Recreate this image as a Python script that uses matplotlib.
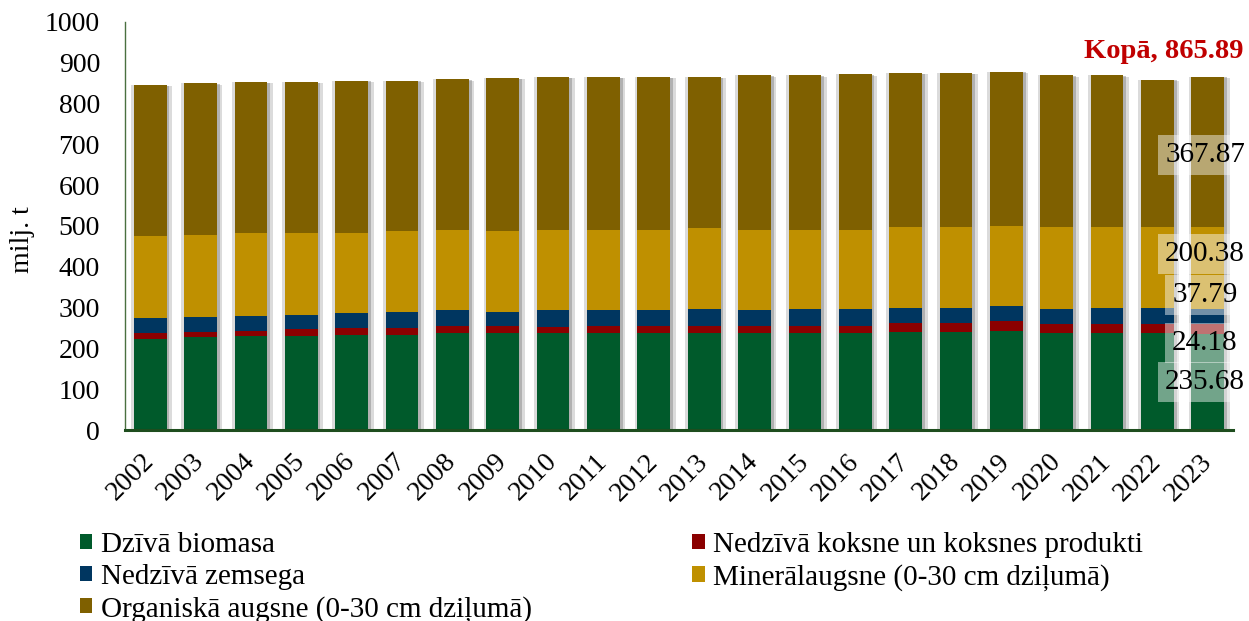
import matplotlib
matplotlib.use("Agg")
import matplotlib.pyplot as plt
import matplotlib.patheffects as pe
import numpy as np

plt.rcParams["font.family"] = ["Liberation Serif", "DejaVu Serif"]

years = [str(y) for y in range(2002, 2024)]
dziva_biomasa = [224, 227, 230, 230, 233, 233, 237, 237, 237, 237, 237, 237, 237, 237, 237,
                 240, 241, 243, 238, 238, 238, 235.68]
nedziva_koksne = [13, 13, 13, 17, 18, 18, 17, 17, 16, 19, 19, 19, 19, 19, 19,
                  23, 22, 23, 22, 22, 22, 24.18]
nedziva_zemsega = [37, 36, 36, 36, 36, 39, 39, 36, 40, 37, 37, 40, 37, 40, 40,
                   37, 37, 37, 36, 40, 40, 37.79]
mineralaugsne = [201, 202, 203, 201, 197, 198, 198, 198, 198, 198, 198, 198, 198, 195, 195,
                 198, 198, 198, 202, 198, 198, 200.38]
organiska = [371, 372, 371, 369, 372, 368, 369, 375, 374, 374, 374, 371, 378, 378, 381,
             377, 377, 377, 371, 371, 361, 367.87]
kopa_2023 = 865.89

series = [
    ("Dzīvā biomasa", dziva_biomasa, "#005a2b"),
    ("Nedzīvā koksne un koksnes produkti", nedziva_koksne, "#8b0000"),
    ("Nedzīvā zemsega", nedziva_zemsega, "#003660"),
    ("Minerālaugsne (0-30 cm dziļumā)", mineralaugsne, "#bf9000"),
    ("Organiskā augsne (0-30 cm dziļumā)", organiska, "#7f6000"),
]

fig = plt.figure(figsize=(12.49, 6.21), dpi=100)
ax = fig.add_axes([125 / 1249, 1 - 430 / 621, 1108 / 1249, 408 / 621])

x = np.arange(len(years))
w = 0.65
totals = np.sum([s[1] for s in series], axis=0)

# soft shadow on both sides of each stacked bar
shadow = [pe.SimplePatchShadow(offset=(4, -1), shadow_rgbFace="0.6", alpha=0.35),
          pe.SimplePatchShadow(offset=(2, -0.5), shadow_rgbFace="0.45", alpha=0.4),
          pe.SimplePatchShadow(offset=(-2, 0), shadow_rgbFace="0.6", alpha=0.35)]
ax.bar(x, totals, w, color="none", zorder=1, path_effects=shadow)

bottom = np.zeros(len(years))
handles = {}
for name, vals, col in series:
    b = ax.bar(x, vals, w, bottom=bottom, color=col, label=name, zorder=2)
    handles[name] = b
    bottom += np.array(vals)

# data labels for the last year (positions nudged to avoid overlaps, as in the source)
lbl_y = [118, 213, 331, 431, 674]
for (name, vals, col), yy in zip(series, lbl_y):
    ax.annotate(f"{vals[-1]:.2f}", xy=(x[-1], yy), xytext=(-2, 0), textcoords="offset points",
                ha="center", va="center", fontsize=21, zorder=5,
                bbox=dict(boxstyle="square,pad=0.25", fc="white", ec="none", alpha=0.45))

ax.annotate(f"Kopā, {kopa_2023:.2f}", xy=(x[-1], kopa_2023), xytext=(-32, 18),
            textcoords="offset points", ha="center", va="center", fontsize=20.5,
            fontweight="bold", color="#c00000")

ax.set_xlim(-0.5, len(years) - 0.5)
ax.set_ylim(0, 1000)
ax.set_yticks(range(0, 1001, 100))
ax.set_xticks(x)
ax.set_xticklabels(years, rotation=45, ha="right", va="center", rotation_mode="anchor")
ax.tick_params(axis="both", length=0, labelsize=20)
ax.tick_params(axis="y", pad=18)
ax.tick_params(axis="x", pad=20)
ax.set_ylabel("milj. t", fontsize=20)
ax.yaxis.set_label_coords(-0.081, 0.466)

for s in ["top", "right"]:
    ax.spines[s].set_visible(False)
ax.spines["left"].set_color("#4a7040")
ax.spines["left"].set_linewidth(1)
ax.spines["bottom"].set_color("#1e4d1e")
ax.spines["bottom"].set_linewidth(2.2)

order = ["Dzīvā biomasa", "Nedzīvā zemsega", "Organiskā augsne (0-30 cm dziļumā)",
         "Nedzīvā koksne un koksnes produkti", "Minerālaugsne (0-30 cm dziļumā)"]
fig.legend([handles[n] for n in order], order, loc="upper left",
           bbox_to_anchor=(80 / 1249, 1 - 532 / 621), ncol=2, frameon=False,
           fontsize=21, handlelength=0.42, handleheight=0.42, handletextpad=0.3,
           labelspacing=0.2, columnspacing=5.5, borderpad=0, borderaxespad=0)

fig.savefig("out.png", dpi=100)
